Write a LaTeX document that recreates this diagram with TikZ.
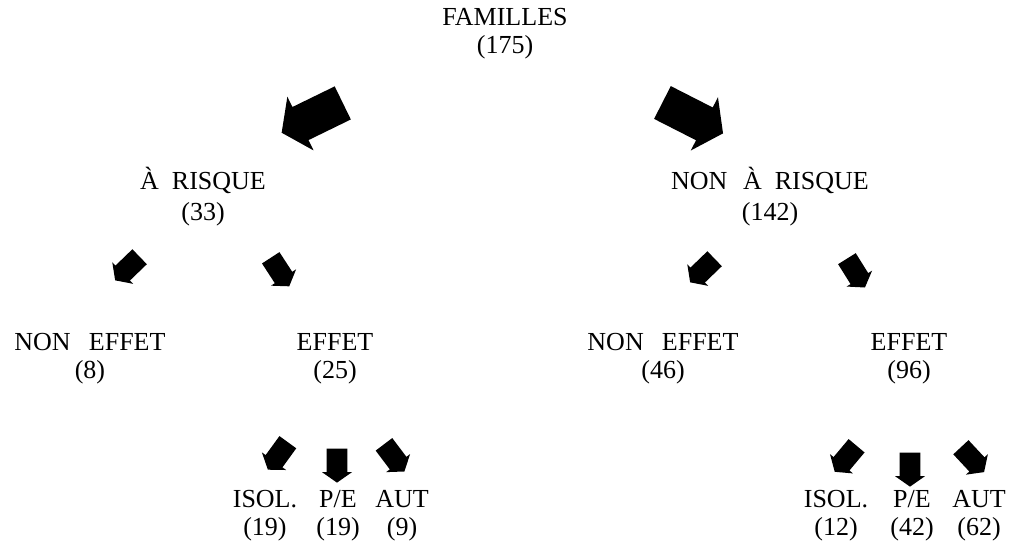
\documentclass[tikz,border=0pt]{standalone}
\usepackage{fontspec}
\setmainfont{Liberation Serif}
\usetikzlibrary{shapes.arrows}

\newcommand{\wgap}{\hspace{0.6em}}

\tikzset{
  txt/.style={align=center, inner sep=0pt, font=\fontsize{13}{14}\selectfont},
  bigarr/.style={single arrow, fill=black, inner xsep=0pt, inner ysep=9pt,
    minimum height=34pt, single arrow head extend=5.75pt, single arrow tip angle=110},
  smallarr/.style={single arrow, fill=black, inner xsep=0pt, inner ysep=5pt,
    minimum height=17pt, single arrow head extend=2.3pt, single arrow tip angle=110}
}

\begin{document}
\begin{tikzpicture}[x=0.5pt, y=-0.5pt]
  \useasboundingbox (0, 0) rectangle (1013, 552);

  % top
  \node[txt] (familles) at (505, 34) {FAMILLES\\(175)};
  \node[bigarr, rotate=206] (arrA) at (318, 115) {};
  \node[bigarr, rotate=-27] (arrB) at (687, 115) {};

  % second level
  \node[txt] (risque) at (203, 197) {À\hspace{0.5em}RISQUE\\[1.5pt](33)};
  \node[txt] (nonrisque) at (770, 197) {NON\wgap À\hspace{0.5em}RISQUE\\[1.5pt](142)};

  \node[smallarr, rotate=224] (arrAa) at (130, 266) {};
  \node[smallarr, rotate=-57] (arrAb) at (278, 269) {};
  \node[smallarr, rotate=224] (arrBa) at (705, 268) {};
  \node[smallarr, rotate=-58] (arrBb) at (854, 270) {};

  % third level
  \node[txt] (noneffetA) at (90, 359) {NON\hspace{0.7em}EFFET\\(8)};
  \node[txt] (effetA) at (335, 359) {EFFET\\(25)};
  \node[txt] (noneffetB) at (663, 359) {NON\hspace{0.7em}EFFET\\(46)};
  \node[txt] (effetB) at (909, 359) {EFFET\\(96)};

  \node[smallarr, rotate=234] (arrAx) at (280, 453) {};
  \node[smallarr, rotate=270] (arrAy) at (337, 462) {};
  \node[smallarr, rotate=-53] (arrAz) at (392, 455) {};
  \node[smallarr, rotate=230] (arrBx) at (848, 456) {};
  \node[smallarr, rotate=270] (arrBy) at (910, 466) {};
  \node[smallarr, rotate=-47] (arrBz) at (970, 457) {};

  % bottom
  \node[txt] (isolA) at (265, 516) {ISOL.\\(19)};
  \node[txt] (peA) at (338, 516) {P/E\\(19)};
  \node[txt] (autA) at (402, 516) {AUT\\(9)};
  \node[txt] (isolB) at (836, 516) {ISOL.\\(12)};
  \node[txt] (peB) at (912, 516) {P/E\\(42)};
  \node[txt] (autB) at (979, 516) {AUT\\(62)};
\end{tikzpicture}
\end{document}
